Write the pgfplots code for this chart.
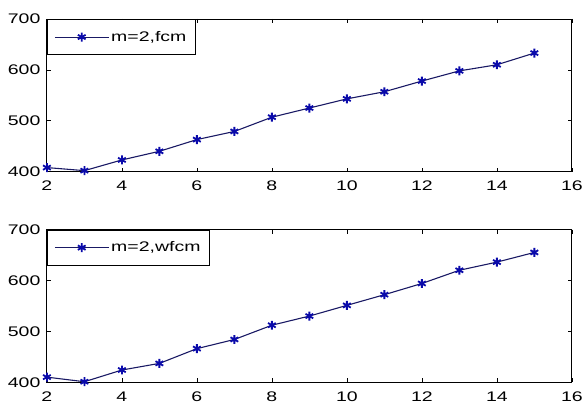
\documentclass[border=0pt]{standalone}
\usepackage{fontspec}
\setmainfont{Liberation Sans}[FakeStretch=1.4]
\usepackage{pgfplots}
\pgfplotsset{compat=1.18}
\definecolor{mline}{RGB}{25,25,100}
\definecolor{mmark}{RGB}{10,10,170}

\pgfplotsset{
  mlab/.style={
    scale only axis, width=526bp, height=153bp,
    xmin=2, xmax=16, ymin=400, ymax=700,
    xtick={2,4,...,16}, ytick={400,500,600,700},
    tick align=inside, major tick length=4bp,
    axis line style={line width=0.9pt}, tick style={black, line width=0.7pt},
    /pgf/number format/assume math mode=true,
    tick label style={font=\fontsize{14}{16}\selectfont},
    xticklabel style={yshift=-6bp}, yticklabel style={xshift=-3bp},
    legend cell align=left,
    legend style={at={(0,1)}, anchor=north west, draw=black, line width=0.7pt,
      font=\fontsize{14}{16}\selectfont, inner xsep=7bp, inner ysep=10bp},
    legend image code/.code={
      \draw[##1, mark repeat=2, mark phase=2] plot coordinates {(0bp,0bp) (27bp,0bp) (54bp,0bp)};
    },
  },
  series/.style={color=mline, line width=1.1pt, mark=asterisk, mark size=4.5pt,
    mark options={draw=mmark, line width=1.8pt}},
}

\begin{document}
\begin{tikzpicture}
\begin{axis}[mlab, name=top]
\addplot[series] coordinates {
(2,408) (3,402) (4,423) (5,440) (6,463) (7,479) (8,507) (9,525)
(10,543) (11,557) (12,578) (13,598) (14,610) (15,633)};
\addlegendentry{m=2,fcm}
\end{axis}
\begin{axis}[mlab, name=bot, yshift=-211bp]
\addplot[series] coordinates {
(2,410) (3,401) (4,424) (5,437) (6,466) (7,484) (8,512) (9,530)
(10,551) (11,572) (12,594) (13,620) (14,636) (15,655)};
\addlegendentry{m=2,wfcm}
\end{axis}
% page margins as in the reference
\path (top.north west) ++(-47bp,19bp);
\path (bot.south east) ++(13bp,-25bp);
\end{tikzpicture}
\end{document}
